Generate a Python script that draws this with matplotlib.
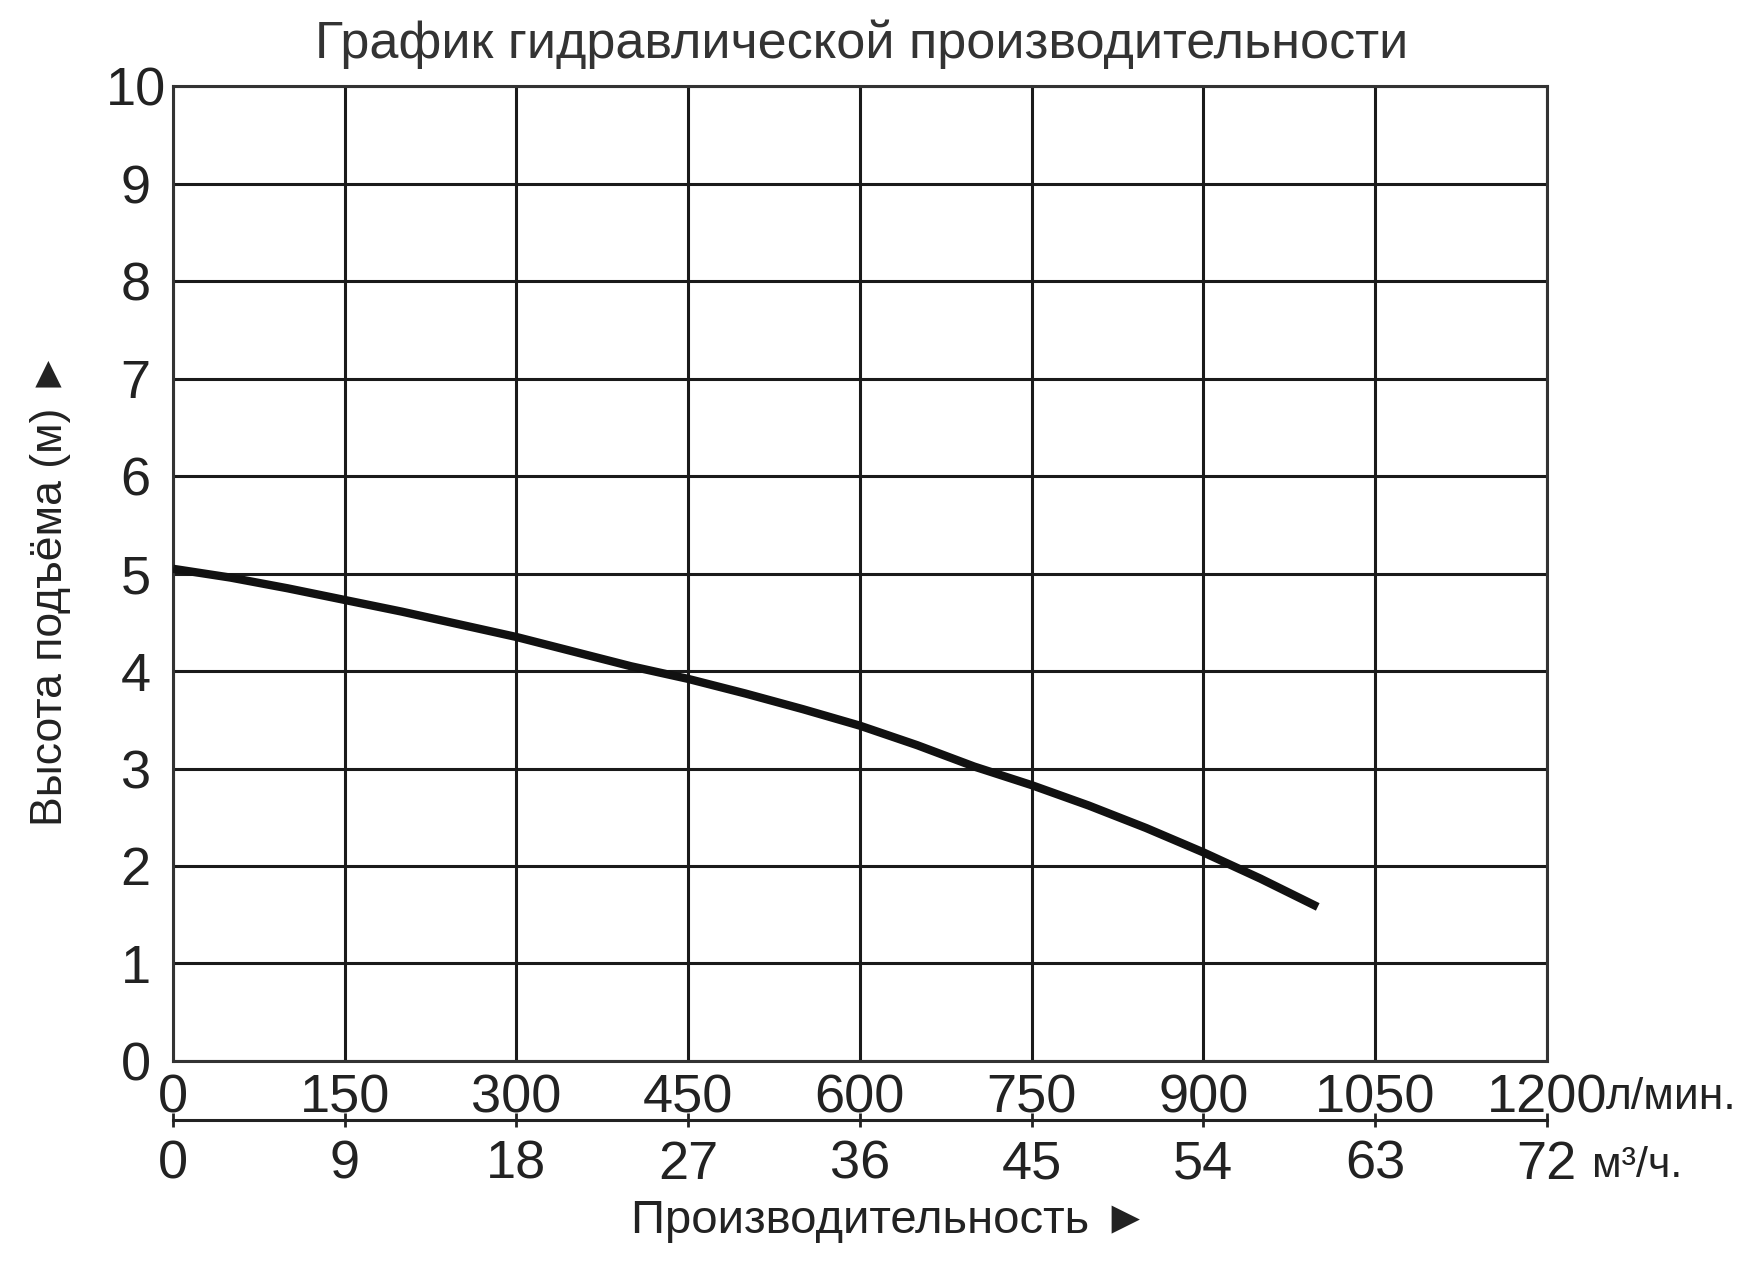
import matplotlib
matplotlib.use("Agg")
import matplotlib.pyplot as plt
import numpy as np

plt.rcParams['font.family'] = ['Liberation Sans', 'DejaVu Sans']

# Data (flow in l/min, head in m)
flow_lpm = [0, 50, 100, 150, 200, 250, 300, 350, 400, 450, 500,
            550, 600, 650, 700, 750, 800, 850, 900, 950, 1000]
head_m = [5.05, 4.96, 4.85, 4.73, 4.61, 4.48, 4.35, 4.20, 4.05, 3.92, 3.77,
          3.61, 3.44, 3.24, 3.02, 2.83, 2.62, 2.39, 2.14, 1.87, 1.58]

x_ticks_lpm = [0, 150, 300, 450, 600, 750, 900, 1050, 1200]
x_ticks_m3h = [0, 9, 18, 27, 36, 45, 54, 63, 72]
y_ticks = list(range(0, 11))

title = "График гидравлической производительности"
xlabel = "Производительность ►"
ylabel = "Высота подъёма (м) ►"
unit1 = "л/мин."
unit2 = "м³/ч."

fig = plt.figure(figsize=(17.52, 12.72), dpi=100)
ax = fig.add_axes([0.0988, 0.166, 0.784, 0.766])

ax.plot(flow_lpm, head_m, color='#111111', lw=6, solid_capstyle='butt',
        solid_joinstyle='round', zorder=3)

ax.set_xlim(0, 1200)
ax.set_ylim(0, 10)
ax.set_xticks(x_ticks_lpm)
ax.set_yticks(y_ticks)
ax.set_xticklabels([str(v) for v in x_ticks_lpm], fontsize=39, color='#222222')
ax.set_yticklabels([str(v) for v in y_ticks], fontsize=39, color='#222222', ha='center')
ax.tick_params(axis='x', length=0, pad=9)
ax.tick_params(axis='y', length=0, pad=27)
ax.grid(True, color='#1a1a1a', lw=2.2)
for s in ax.spines.values():
    s.set_color('#333333')
    s.set_linewidth(2.2)

sec = ax.secondary_xaxis(-0.061, functions=(lambda x: x * 0.06, lambda x: x / 0.06))
sec.set_xticks(x_ticks_m3h)
sec.set_xticklabels([str(v) for v in x_ticks_m3h], fontsize=39, color='#222222')
sec.tick_params(axis='x', direction='inout', length=10, width=2, pad=9, color='#222222')
sec.spines['bottom'].set_linewidth(2.2)
sec.spines['bottom'].set_color('#222222')

ax.text(1.043, -0.038, unit1, transform=ax.transAxes, fontsize=32, color='#222222',
        ha='left', va='center')
ax.text(1.033, -0.108, unit2, transform=ax.transAxes, fontsize=31, color='#222222',
        ha='left', va='center')

fig.text(0.4916, 0.965, title, fontsize=37.5, color='#333333', ha='center', va='center')
fig.text(0.508, 0.04, xlabel, fontsize=34, color='#222222', ha='center', va='center')
fig.text(0.029, 0.537, ylabel, fontsize=32, color='#222222', ha='center', va='center',
         rotation=90)

fig.savefig("out.png", dpi=100, facecolor='white')
